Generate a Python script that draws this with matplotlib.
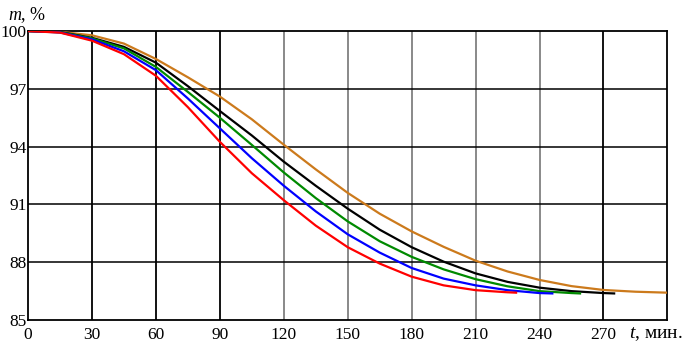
import matplotlib.pyplot as plt

# time, min and mass, %
t_red = [0, 15, 30, 45, 60, 75, 90, 105, 120, 135, 150, 165, 180, 195, 210, 225, 229]
m_red = [100, 99.92, 99.5, 98.8, 97.68, 96.05, 94.25, 92.62, 91.22, 89.9, 88.78, 87.93, 87.25, 86.8, 86.55, 86.44, 86.42]

t_blue = [0, 15, 30, 45, 60, 75, 90, 105, 120, 135, 150, 165, 180, 195, 210, 225, 240, 246]
m_blue = [100, 99.93, 99.57, 98.95, 97.97, 96.5, 94.95, 93.4, 91.97, 90.64, 89.45, 88.5, 87.7, 87.15, 86.8, 86.55, 86.4, 86.38]

t_green = [0, 15, 30, 45, 60, 75, 90, 105, 120, 135, 150, 165, 180, 195, 210, 225, 240, 255, 259]
m_green = [100, 99.94, 99.62, 99.1, 98.14, 96.84, 95.5, 94.09, 92.66, 91.33, 90.12, 89.09, 88.28, 87.63, 87.12, 86.75, 86.5, 86.4, 86.38]

t_black = [0, 15, 30, 45, 60, 75, 90, 105, 120, 135, 150, 165, 180, 195, 210, 225, 240, 255, 270, 275]
m_black = [100, 99.95, 99.65, 99.18, 98.36, 97.14, 95.85, 94.58, 93.22, 91.97, 90.78, 89.69, 88.78, 88.03, 87.42, 86.98, 86.68, 86.5, 86.4, 86.38]

t_orange = [0, 15, 30, 45, 60, 75, 90, 105, 120, 135, 150, 165, 180, 195, 210, 225, 240, 255, 270, 285, 300]
m_orange = [100, 99.96, 99.78, 99.35, 98.55, 97.6, 96.6, 95.42, 94.1, 92.82, 91.6, 90.52, 89.6, 88.8, 88.08, 87.52, 87.08, 86.76, 86.56, 86.47, 86.42]

x_ticks = [0, 30, 60, 90, 120, 150, 180, 210, 240, 270]
y_ticks = [85, 88, 91, 94, 97, 100]

plt.rcParams['font.family'] = ['Liberation Serif', 'DejaVu Serif']
plt.rcParams['mathtext.fontset'] = 'custom'
plt.rcParams['mathtext.it'] = 'Liberation Serif:italic'
plt.rcParams['mathtext.rm'] = 'Liberation Serif'

fig = plt.figure(figsize=(6.92, 3.49), dpi=100)
ax = fig.add_axes([0.0405, 0.083, 0.924, 0.828])

# grid: black lines except the middle verticals, which are grey
for x in x_ticks[1:]:
    col = '#808080' if 120 <= x <= 240 else 'black'
    ax.axvline(x, color=col, lw=1.3, zorder=1)
for y in y_ticks[1:-1]:
    ax.axhline(y, color='black', lw=1.1, zorder=1)

ax.plot(t_orange, m_orange, color='#cc7a1c', lw=1.6, zorder=3)
ax.plot(t_black, m_black, color='black', lw=1.6, zorder=3)
ax.plot(t_green, m_green, color='#008a00', lw=1.6, zorder=3)
ax.plot(t_blue, m_blue, color='#0000ff', lw=1.6, zorder=3)
ax.plot(t_red, m_red, color='#ff0000', lw=1.6, zorder=3)

ax.set_xlim(0, 300)
ax.set_ylim(85, 100)
ax.set_xticks(x_ticks)
ax.set_yticks(y_ticks)
ax.tick_params(length=0, labelsize=12.5, colors='black')
ax.tick_params(axis='x', pad=5)
ax.tick_params(axis='y', pad=1)
for s in ax.spines.values():
    s.set_color('black')
    s.set_linewidth(1.3)

fig.text(0.011, 0.958, r'$m$, %', fontsize=13, va='center', ha='left')
fig.text(0.909, 0.042, r'$t$, мин.', fontsize=14, va='center', ha='left')

plt.savefig('out.png', dpi=100)
